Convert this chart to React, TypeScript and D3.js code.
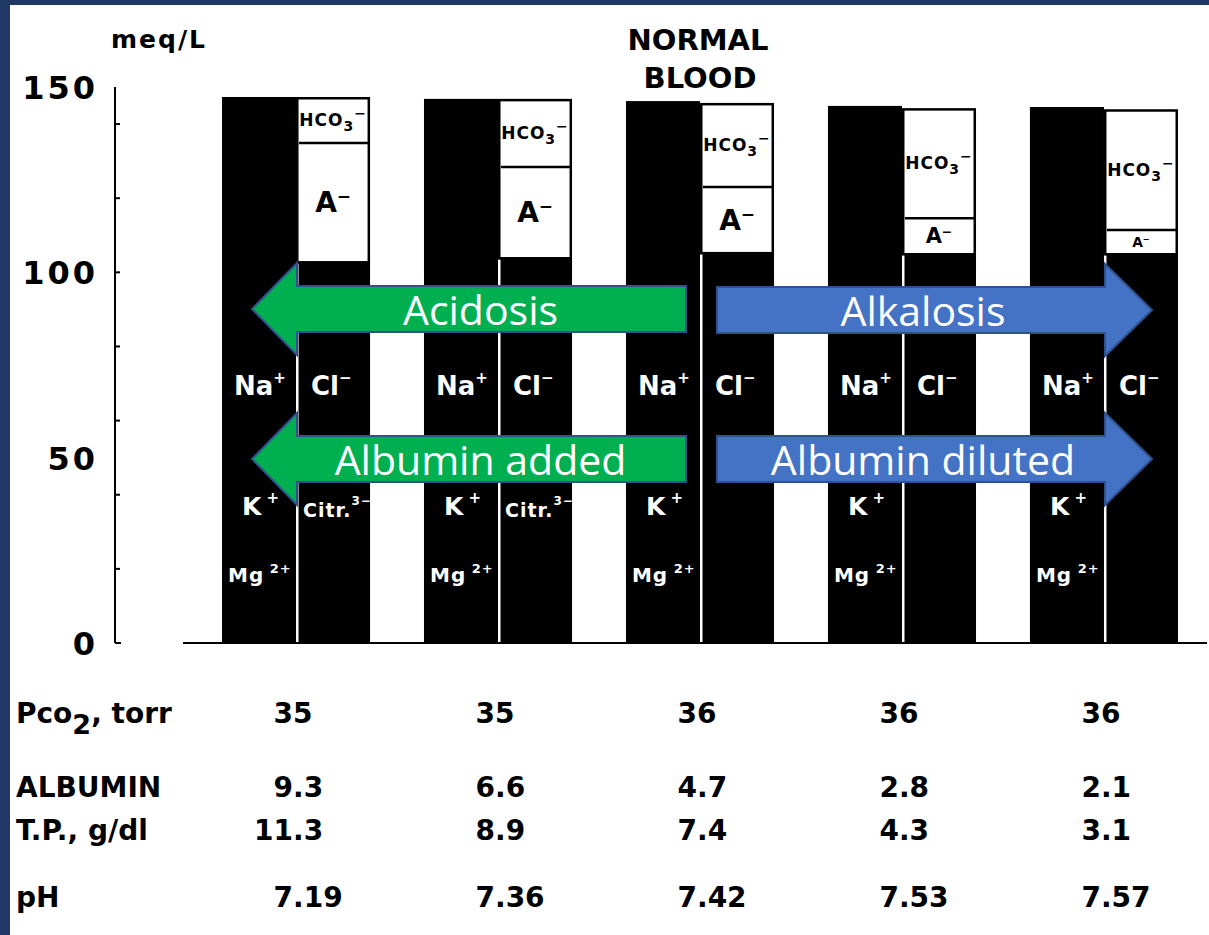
import React from 'react';
import * as d3 from 'd3';

// ---------- data (meq/L) ----------
const groups = [0, 1, 2, 3, 4];
const cations = [147.3, 146.8, 146.2, 144.9, 144.6];
const chloride = [103.0, 104.1, 105.5, 105.2, 105.2];
const albuminAnion = [31.9, 24.3, 17.5, 9.4, 6.2];
const bicarbonate = [12.4, 18.4, 22.7, 29.7, 32.6];
const citrateShown = [true, true, false, false, false];

const pco2Values = ['35', '35', '36', '36', '36'];
const albuminValues = ['9.3', '6.6', '4.7', '2.8', '2.1'];
const totalProteinValues = ['11.3', '8.9', '7.4', '4.3', '3.1'];
const phValues = ['7.19', '7.36', '7.42', '7.53', '7.57'];

const yTickLabels = [0, 50, 100, 150];

const W = 1209;
const H = 935;
const NAVY = '#1f3864';
const FONT = "'DejaVu Sans', 'Liberation Sans', Arial, sans-serif";
const ARROW_FONT = "'Open Sans', 'Noto Sans', sans-serif";

const y = d3.scaleLinear().domain([0, 150]).range([643, 87]);
const x = d3.scaleBand<number>().domain(groups).range([222, 1178]).paddingInner(0.267).paddingOuter(0);
const bw = x.bandwidth();

function arrowPath(tip: number, headBase: number, tail: number, cy: number, hb = 23, hh = 46) {
  const p = d3.path();
  p.moveTo(tip, cy);
  p.lineTo(headBase, cy - hh);
  p.lineTo(headBase, cy - hb);
  p.lineTo(tail, cy - hb);
  p.lineTo(tail, cy + hb);
  p.lineTo(headBase, cy + hb);
  p.lineTo(headBase, cy + hh);
  p.closePath();
  return p.toString();
}

function Arrow({ tip, headBase, tail, cy, fill, label }: any) {
  const cx = (tip + tail) / 2 + (tail > tip ? 11.5 : -11.5);
  return (
    <g>
      <path d={arrowPath(tip, headBase, tail, cy)} fill={fill} stroke="#2f528f" strokeWidth={2} />
      <text x={cx} y={cy + 16} textAnchor="middle" fill="#fff" fontFamily={ARROW_FONT} fontSize={41}>
        {label}
      </text>
    </g>
  );
}

function Ion({ x0, yy, base, sup, size, supSize, supDy, fill = '#fff', ls = 0 }: any) {
  return (
    <text x={x0} y={yy} fill={fill} fontFamily={FONT} fontWeight="bold" fontSize={size} letterSpacing={ls}>
      {base}
      <tspan fontSize={supSize} dy={supDy}>{sup}</tspan>
    </text>
  );
}

function DecimalValue({ xd, yy, value }: any) {
  const parts = value.split('.');
  if (parts.length === 1) {
    return (
      <text x={xd} y={yy} textAnchor="middle" fontFamily={FONT} fontWeight="bold" fontSize={28}>
        {value}
      </text>
    );
  }
  return (
    <g fontFamily={FONT} fontWeight="bold" fontSize={28}>
      <text x={xd} y={yy} textAnchor="end">{parts[0]}</text>
      <text x={xd} y={yy}>{'.' + parts[1]}</text>
    </g>
  );
}

export default function App() {
  const y0 = y(0);
  const rows = [
    { yy: 723, values: pco2Values },
    { yy: 797, values: albuminValues },
    { yy: 840, values: totalProteinValues },
    { yy: 907, values: phValues },
  ];
  return (
    <svg width={W} height={H} style={{ position: 'absolute', left: 0, top: 0, background: '#fff' }}>
      <rect x={0} y={0} width={W} height={H} fill="#fff" />
      {/* frame */}
      <rect x={0} y={0} width={10} height={H} fill={NAVY} />
      <rect x={0} y={0} width={W} height={5} fill={NAVY} />

      {/* titles */}
      <text x={111} y={48} fontFamily={FONT} fontWeight="bold" fontSize={25} letterSpacing={2}>meq/L</text>
      <text x={698} y={50} textAnchor="middle" fontFamily={FONT} fontWeight="bold" fontSize={29}>NORMAL</text>
      <text x={700} y={88} textAnchor="middle" fontFamily={FONT} fontWeight="bold" fontSize={29}>BLOOD</text>

      {/* y axis */}
      <line x1={115} x2={115} y1={y(150)} y2={y0} stroke="#000" strokeWidth={2} />
      {y.ticks(6).map((t) => (
        <line key={t} x1={115} x2={t === 0 ? 121 : 120} y1={y(t)} y2={y(t)} stroke="#000" strokeWidth={2} />
      ))}
      {yTickLabels.map((t) => (
        <text key={t} x={98} y={y(t) + 12} textAnchor="end" fontFamily={FONT} fontWeight="bold" fontSize={32} letterSpacing={3}>
          {t}
        </text>
      ))}

      {/* bars */}
      {groups.map((i) => {
        const x0 = x(i) as number;
        const mid = x0 + bw / 2;
        const x1 = x0 + bw;
        const topA = chloride[i] + albuminAnion[i] + bicarbonate[i];
        const sep = chloride[i] + albuminAnion[i];
        const aH = y(chloride[i]) - y(sep);
        const aSize = Math.min(28, aH * 0.6);
        const hcoMid = (y(topA) + y(sep)) / 2;
        const aMid = (y(sep) + y(chloride[i])) / 2;
        return (
          <g key={i}>
            <rect x={x0} y={y(cations[i])} width={bw / 2} height={y0 - y(cations[i])} fill="#000" />
            <rect
              x={mid + 1.25}
              y={y(topA) + 1.25}
              width={bw / 2 - 2.5}
              height={y(chloride[i]) - y(topA)}
              fill="#fff"
              stroke="#000"
              strokeWidth={2.5}
            />
            <rect x={mid + 2.5} y={y(chloride[i])} width={bw / 2 - 2.5} height={y0 - y(chloride[i])} fill="#000" />
            <line x1={mid + 3} x2={x1 - 2} y1={y(sep)} y2={y(sep)} stroke="#000" strokeWidth={2.5} />

            {/* anion box labels */}
            <text x={(mid + x1) / 2} y={hcoMid + 6} textAnchor="middle" fontFamily={FONT} fontWeight="bold" fontSize={17} letterSpacing={1}>
              HCO<tspan fontSize={14} dy={5}>3</tspan><tspan fontSize={14} dy={-13}>−</tspan>
            </text>
            <text x={(mid + x1) / 2} y={aMid + aSize * 0.36} textAnchor="middle" fontFamily={FONT} fontWeight="bold" fontSize={aSize}>
              A<tspan fontSize={aSize * 0.6} dy={-aSize * 0.35}>−</tspan>
            </text>

            {/* black bar labels */}
            <Ion x0={x0 + 12} yy={y(67)} base="Na" sup="+" size={26} supSize={15} supDy={-12} />
            <Ion x0={mid + 15} yy={y(67)} base="Cl" sup="−" size={26} supSize={15} supDy={-12} />
            <Ion x0={x0 + 20} yy={y(34.5)} base="K" sup=" +" size={25} supSize={15} supDy={-12} />
            {citrateShown[i] && <Ion x0={mid + 7} yy={y(34)} base="Citr." sup="3−" size={19} supSize={12} supDy={-12} ls={1} />}
            <Ion x0={x0 + 6} yy={y(16.5)} base="Mg" sup=" 2+" size={20} supSize={13} supDy={-9} ls={1} />
          </g>
        );
      })}

      {/* baseline */}
      <line x1={183} x2={1207} y1={y0} y2={y0} stroke="#000" strokeWidth={2} />

      {/* arrows */}
      <Arrow tip={252} headBase={297} tail={686} cy={309} fill="#00b050" label="Acidosis" />
      <Arrow tip={252} headBase={297} tail={686} cy={459} fill="#00b050" label="Albumin added" />
      <Arrow tip={1152} headBase={1105} tail={717} cy={310} fill="#4472c4" label="Alkalosis" />
      <Arrow tip={1152} headBase={1105} tail={717} cy={459} fill="#4472c4" label="Albumin diluted" />

      {/* table */}
      <g fontFamily={FONT} fontWeight="bold" fontSize={28}>
        <text x={16} y={723}>
          Pco<tspan dy={11} fontSize={27}>2</tspan><tspan dy={-11}>, torr</tspan>
        </text>
        <text x={16} y={797}>ALBUMIN</text>
        <text x={16} y={840}>T.P., g/dl</text>
        <text x={16} y={907}>pH</text>
      </g>
      {rows.map((r, ri) =>
        groups.map((i) => (
          <DecimalValue key={ri + '-' + i} xd={(x(i) as number) + bw / 2 - 3} yy={r.yy} value={r.values[i]} />
        ))
      )}
    </svg>
  );
}
